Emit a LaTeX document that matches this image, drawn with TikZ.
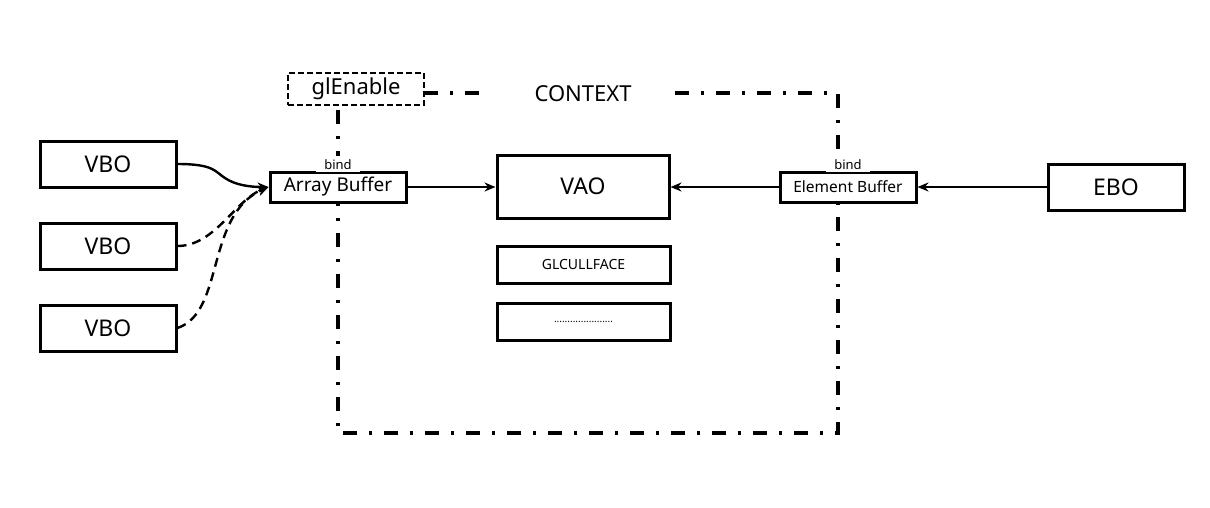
\documentclass[tikz,border=0pt]{standalone}
\usepackage{fontspec}
\setmainfont{Noto Sans}
\usetikzlibrary{arrows.meta}
\begin{document}
\begin{tikzpicture}[x=1pt,y=-1pt,
  box/.style={draw,fill=white,line width=3pt,minimum height=#1,inner sep=0pt},
  box/.default=46pt,
  conn/.style={line width=2.4pt,-{Stealth[length=11pt,width=9pt]}},
  dconn/.style={conn,dash pattern=on 9pt off 6pt},
  frame/.style={line width=3.4pt,dash pattern=on 14pt off 12pt on 3pt off 12pt},
  bindlbl/.style={fill=white,inner xsep=8pt,inner ysep=3pt,anchor=base,font=\fontsize{13}{15}\selectfont}
]
\useasboundingbox (0,0) rectangle (1210,507);
% frame
\node (ctx) at (583,94) {\fontsize{22}{26}\selectfont CONTEXT};
\coordinate (tl) at (338,105);
\coordinate (tr) at (838,93);
\coordinate (br) at (838,433);
\coordinate (bl) at (338,433);
\draw[frame] (424,93) -- (489,93);
\draw[frame] (675,93) -- (tr) -- (br) -- (bl) -- (tl);
\node[draw,fill=white,line width=2.8pt,dash pattern=on 6pt off 3pt,minimum width=136pt,minimum height=32pt,inner sep=0pt] (gle) at (356,89) {\fontsize{22}{26}\selectfont glEnable};
% boxes
\node[box,minimum width=136pt] (v1) at (108,164) {\fontsize{23}{27}\selectfont VBO};
\node[box,minimum width=136pt] (v2) at (108,246) {\fontsize{23}{27}\selectfont VBO};
\node[box,minimum width=136pt] (v3) at (108,328) {\fontsize{23}{27}\selectfont VBO};
\node[box=30pt,minimum width=136pt] (ab) at (338,187) {\raisebox{-1pt}{\fontsize{19}{21}\selectfont Array Buffer}};
\node[bindlbl] at ([yshift=1.5pt]ab.north) {bind};
\node[box=63pt,minimum width=172pt] (vao) at (583,186.5) {\fontsize{23}{27}\selectfont VAO};
\node[box=37pt,minimum width=173pt] (cull) at (583.5,264.5) {\fontsize{14}{16}\selectfont GLCULLFACE};
\node[box=37pt,minimum width=173pt] (etc) at (583.5,321.5) {\fontsize{10}{11}\selectfont ......................};
\node[box=30pt,minimum width=136pt] (eb) at (848,187) {\raisebox{-1pt}{\fontsize{15.5}{17}\selectfont Element Buffer}};
\node[bindlbl] at ([yshift=1.5pt]eb.north) {bind};
\node[box,minimum width=136pt] (ebo) at (1116,187) {\fontsize{23}{27}\selectfont EBO};
% connectors
\draw[conn] (v1.east) .. controls (215,164) and (215,172) .. (225,178) .. controls (235,185) and (250,187) .. (ab.west);
\draw[dconn] (v2.east) .. controls (215,246) and (235,200) .. (ab.west);
\draw[dconn] (v3.east) .. controls (225,312) and (205,215) .. (ab.west);
\draw[conn] (ab.east) -- (vao.west |- ab.east);
\draw[conn] (eb.west) -- (vao.east |- eb.west);
\draw[conn] (ebo.west) -- (eb.east);
\end{tikzpicture}
\end{document}
